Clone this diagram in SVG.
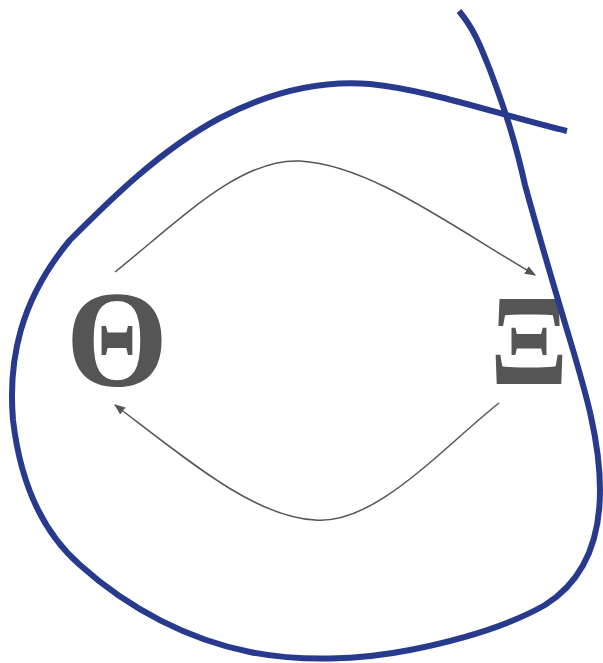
<svg xmlns="http://www.w3.org/2000/svg" width="603" height="663" viewBox="0 0 603 663">
<style>
.lbl{font-family:"Liberation Serif","DejaVu Serif",serif;font-weight:bold;fill:#555555;text-anchor:middle}
.edge{fill:none;stroke:#555555;stroke-width:1.5}
.blob{fill:none;stroke:#283a8e;stroke-width:6;stroke-linecap:butt;stroke-linejoin:round}
</style>
<defs>
<marker id="ah" viewBox="0 0 10 10" refX="9" refY="5" markerWidth="11" markerHeight="11" markerUnits="userSpaceOnUse" orient="auto">
<path d="M0,1 L10,5 L0,9 z" fill="#555555"/>
</marker>
</defs>
<g id="connectors">
<path class="edge" marker-end="url(#ah)" d="M115,272 C180,220 240,158 300,161 C370,165 450,225 535,275"/>
<path class="edge" marker-end="url(#ah)" d="M499,403 C440,450 375,525 315,520 C255,517 190,462 115,405"/>
</g>
<g id="theta">
<text class="lbl" x="117" y="386" font-size="138" transform="translate(117 0) scale(0.95 1) translate(-117 0)">Θ</text>
</g>
<g id="xi">
<text class="lbl" x="529" y="384" font-size="130" transform="translate(529 0) scale(0.88 1) translate(-529 0)">Ξ</text>
</g>
<g id="region">
<path class="blob" d="M459,11 C475,30 482,50 490,70 C505,110 515,140 525,185 C540,240 555,290 570,340 C585,390 600,440 600,490 C600,540 585,580 545,605 C510,625 460,640 410,650 C360,660 300,662 250,652 C190,640 130,610 80,565 C40,530 20,480 13,420 C8,360 20,300 70,240 C110,200 160,150 220,118 C270,92 320,80 370,84 C430,90 500,115 567,131"/>
</g>
</svg>
